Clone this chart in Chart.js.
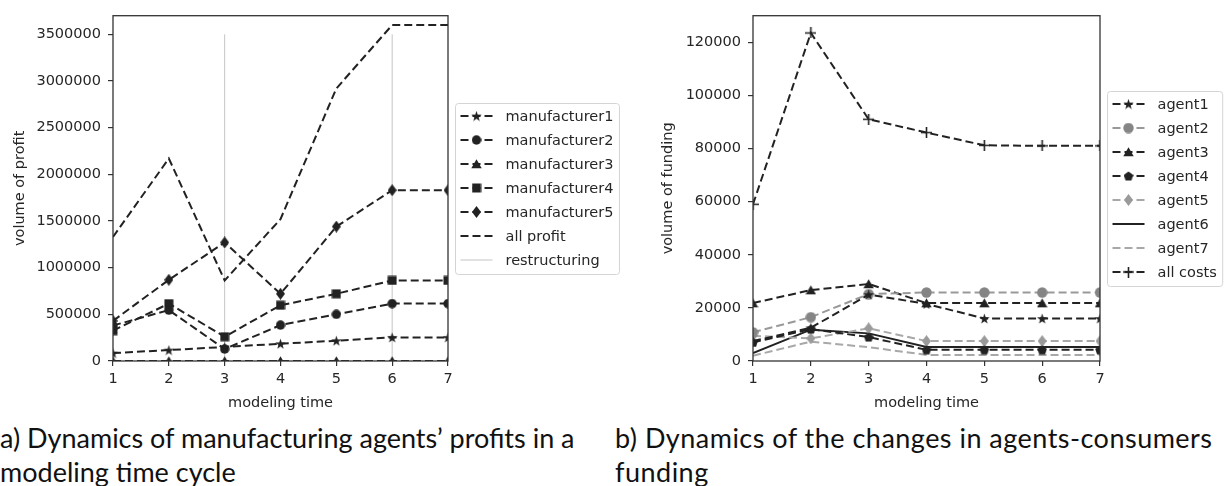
<!DOCTYPE html>
<html>
<head>
<meta charset="utf-8">
<script src="https://cdn.jsdelivr.net/npm/chart.js@4/dist/chart.umd.min.js"></script>
<style>
  html, body { margin: 0; padding: 0; background: #fff; }
  body { width: 1226px; height: 486px; position: relative; overflow: hidden; }
  #c1 { position: absolute; left: 0; top: 0; }
  #c2 { position: absolute; left: 625px; top: 0; }
  .cap { position: absolute; font-family: Lato, "Open Sans", sans-serif;
         font-size: 26px; line-height: 34px; color: #111; white-space: nowrap; }
</style>
</head>
<body>
<canvas id="c1" width="625" height="420"></canvas>
<canvas id="c2" width="601" height="420"></canvas>
<div class="cap" id="capA" style="left:0px; top:421px;">a) Dynamics of manufacturing agents’ profits in a<br>modeling time cycle</div>
<div class="cap" id="capB" style="left:615px; top:421px;">b) Dynamics of the changes in agents-consumers<br>funding</div>
<script>
// ---------- data ----------
const timeSteps = [1, 2, 3, 4, 5, 6, 7];

const manufacturer1 = [85000, 117000, 150000, 185000, 217000, 253000, 253000];
const manufacturer2 = [380000, 545000, 128000, 385000, 500000, 615000, 615000];
const manufacturer3 = [0, 0, 0, 0, 0, 0, 0];
const manufacturer4 = [325000, 615000, 260000, 597000, 720000, 863000, 863000];
const manufacturer5 = [430000, 870000, 1270000, 720000, 1440000, 1830000, 1830000];
const allProfit = [1330000, 2170000, 863000, 1520000, 2920000, 3600000, 3600000];
const restructuringTimes = [3, 6];
const restructuringTop = 3500000;
const profitTicks = [0, 500000, 1000000, 1500000, 2000000, 2500000, 3000000, 3500000];

const agent1 = [7500, 12500, 25000, 21500, 16000, 16000, 16000];
const agent2 = [10800, 16500, 25200, 25800, 25800, 25800, 25800];
const agent3 = [21800, 26700, 29000, 21800, 21800, 21800, 21800];
const agent4 = [7000, 12000, 9000, 4200, 4200, 4200, 4200];
const agent5 = [9500, 8500, 12300, 7500, 7500, 7500, 7500];
const agent6 = [3000, 11800, 10400, 5300, 5300, 5300, 5300];
const agent7 = [2000, 7300, 5200, 2300, 2300, 2300, 2300];
const allCosts = [59000, 123500, 91000, 86000, 81200, 81000, 81000];
const fundingTicks = [0, 20000, 40000, 60000, 80000, 100000, 120000];

// ---------- caption sizing (fit first line widths) ----------
(function fitCaptions() {
  const m = document.createElement('canvas').getContext('2d');
  m.font = '100px Lato';
  const lineA = 'a) Dynamics of manufacturing agents’ profits in a';
  const lineB = 'b) Dynamics of the changes in agents-consumers';
  const size = Math.min(27, 100 * 578 / m.measureText(lineA).width);
  m.font = size + 'px Lato';
  const wb = m.measureText(lineB).width;
  const ls = Math.max(0, (598 - wb) / lineB.length);
  const a = document.getElementById('capA'), b = document.getElementById('capB');
  a.style.fontSize = size + 'px';
  b.style.fontSize = size + 'px';
  b.style.letterSpacing = ls + 'px';
})();

// ---------- styling ----------
const DARK = '#222222';
const GRAY = '#858585';
const GRAYLINE = '#999999';
const DASH = [8, 4];
const FONT = 'DejaVu Sans';
const FS = 14.5;

Chart.defaults.font.family = FONT;
Chart.defaults.font.size = FS;
Chart.defaults.color = '#262626';

function marker(shape, color, w, h) {
  const c = document.createElement('canvas');
  c.width = w; c.height = h;
  const x = c.getContext('2d');
  x.fillStyle = color; x.strokeStyle = color;
  const cx = w / 2, cy = h / 2;
  x.beginPath();
  if (shape === 'circle') {
    x.arc(cx, cy, w / 2 - 0.3, 0, Math.PI * 2); x.fill();
  } else if (shape === 'square') {
    x.fillRect(0.5, 0.5, w - 1, h - 1);
  } else if (shape === 'triangle') {
    x.moveTo(cx, 0.3); x.lineTo(w - 0.3, h - 0.8); x.lineTo(0.3, h - 0.8); x.closePath(); x.fill();
  } else if (shape === 'star' || shape === 'pentagon') {
    const R = w / 2, r = shape === 'star' ? R * 0.4 : R;
    const n = shape === 'star' ? 10 : 5;
    for (let i = 0; i < n; i++) {
      const rad = (shape === 'star' && i % 2 === 1) ? r : R;
      const a = -Math.PI / 2 + i * 2 * Math.PI / n;
      const px = cx + rad * Math.cos(a), py = cy + 0.5 + rad * Math.sin(a);
      if (i === 0) x.moveTo(px, py); else x.lineTo(px, py);
    }
    x.closePath(); x.fill();
  } else if (shape === 'thinDiamond') {
    x.moveTo(cx, 0); x.lineTo(w, cy); x.lineTo(cx, h); x.lineTo(0, cy); x.closePath(); x.fill();
  } else if (shape === 'plus') {
    x.lineWidth = 1.6;
    x.moveTo(cx, 0); x.lineTo(cx, h); x.moveTo(0, cy); x.lineTo(w, cy); x.stroke();
  }
  return c;
}

function pts(values) { return values.map((v, i) => ({ x: timeSteps[i], y: v })); }

function series(label, values, color, dash, style, width) {
  return {
    label: label,
    data: pts(values),
    borderColor: color,
    backgroundColor: color,
    borderWidth: width || 2,
    borderDash: dash,
    pointStyle: style || false,
    pointRadius: style ? 6 : 0,
    tension: 0,
    clip: 0,
  };
}

const legendPlugin = {
  id: 'mplLegend',
  afterDraw(chart) {
    const { ctx, chartArea } = chart;
    const ds = chart.data.datasets;
    const sp = 24;
    const h = (ds.length - 1) * sp + 27;
    const x0 = chartArea.right + 7.5;
    const cy = (chartArea.top + chartArea.bottom) / 2;
    const y0 = Math.round(cy - h / 2) + 0.5;
    ctx.save();
    ctx.font = FS + 'px "' + FONT + '"';
    let tw = 0;
    ds.forEach(d => { tw = Math.max(tw, ctx.measureText(d.label).width); });
    const w = 50 + tw + 6;
    ctx.beginPath();
    ctx.roundRect(x0, y0, w, h, 3);
    ctx.fillStyle = 'rgba(255,255,255,0.85)';
    ctx.fill();
    ctx.strokeStyle = '#d4d4d4';
    ctx.lineWidth = 1;
    ctx.stroke();
    ds.forEach((d, i) => {
      const y = y0 + 12.5 + i * sp;
      ctx.beginPath();
      ctx.setLineDash(d.borderDash || []);
      ctx.strokeStyle = d.borderColor;
      ctx.lineWidth = d.borderWidth;
      ctx.moveTo(x0 + 5, y); ctx.lineTo(x0 + 37, y);
      ctx.stroke();
      ctx.setLineDash([]);
      if (d.pointStyle && typeof d.pointStyle === 'object') {
        const im = d.pointStyle;
        ctx.drawImage(im, x0 + 21 - im.width / 2, y - im.height / 2);
      }
      ctx.fillStyle = '#262626';
      ctx.textBaseline = 'middle';
      ctx.textAlign = 'left';
      ctx.fillText(d.label, x0 + 50, y + 1);
    });
    ctx.restore();
  }
};

const framePlugin = {
  id: 'frame',
  afterDatasetsDraw(chart) {
    const { ctx, chartArea: a } = chart;
    ctx.save();
    ctx.strokeStyle = '#333';
    ctx.lineWidth = 1.3;
    ctx.strokeRect(a.left, a.top, a.right - a.left, a.bottom - a.top);
    ctx.restore();
  }
};

function makeOptions(cfg) {
  return {
    responsive: false,
    animation: false,
    events: [],
    layout: { padding: { top: 14, left: 0, right: cfg.padRight, bottom: 0 } },
    plugins: { legend: { display: false }, tooltip: { enabled: false } },
    scales: {
      x: {
        type: 'linear', min: 1, max: 7,
        afterBuildTicks: s => { s.ticks = timeSteps.map(v => ({ value: v })); },
        afterFit: s => { s.height = 59; },
        grid: { drawOnChartArea: false, drawTicks: true, tickLength: 5, color: '#333', lineWidth: 1.2 },
        border: { display: false },
        ticks: { padding: 5, color: '#262626', callback: v => String(v) },
        title: { display: true, text: 'modeling time', color: '#262626', padding: { top: 0, bottom: 8 } }
      },
      y: {
        type: 'linear', min: 0, max: cfg.yMax,
        afterBuildTicks: s => { s.ticks = cfg.yTicks.map(v => ({ value: v })); },
        afterFit: s => { s.width = cfg.yWidth; },
        grid: { drawOnChartArea: false, drawTicks: true, tickLength: 5, color: '#333', lineWidth: 1.2 },
        border: { display: false },
        ticks: { padding: 7, color: '#262626', callback: v => String(v) },
        title: { display: true, text: cfg.yTitle, color: '#262626', padding: { top: cfg.yTitlePad, bottom: 0 } }
      }
    }
  };
}

// ---------- left chart ----------
const mStar = marker('star', DARK, 11, 11);
const mCircle = marker('circle', DARK, 10, 10);
const mTri = marker('triangle', DARK, 11, 10);
const mSquare = marker('square', DARK, 10, 10);
const mDiamond = marker('thinDiamond', DARK, 9, 12);

const restructData = [];
restructuringTimes.forEach((t, i) => {
  if (i > 0) restructData.push({ x: t, y: null });
  restructData.push({ x: t, y: 0 }, { x: t, y: restructuringTop });
});

new Chart(document.getElementById('c1'), {
  type: 'line',
  data: {
    datasets: [
      series('manufacturer1', manufacturer1, DARK, DASH, mStar),
      series('manufacturer2', manufacturer2, DARK, DASH, mCircle),
      series('manufacturer3', manufacturer3, DARK, DASH, mTri),
      series('manufacturer4', manufacturer4, DARK, DASH, mSquare),
      series('manufacturer5', manufacturer5, DARK, DASH, mDiamond),
      series('all profit', allProfit, DARK, DASH, null),
      { label: 'restructuring', data: restructData, borderColor: '#c4c4c4', borderWidth: 1,
        borderDash: [], pointRadius: 0, pointStyle: false, spanGaps: false, clip: 0 }
    ]
  },
  options: makeOptions({ padRight: 177, yMax: 3700000, yTicks: profitTicks, yWidth: 113,
                         yTitle: 'volume of profit', yTitlePad: 12 }),
  plugins: [framePlugin, legendPlugin]
});

// ---------- right chart ----------
const aStar = marker('star', DARK, 11, 11);
const aCircle = marker('circle', GRAY, 11, 11);
const aTri = marker('triangle', DARK, 11, 10);
const aPent = marker('pentagon', DARK, 10, 10);
const aDiamond = marker('thinDiamond', '#9a9a9a', 9, 12);
const aPlus = marker('plus', DARK, 11, 11);

new Chart(document.getElementById('c2'), {
  type: 'line',
  data: {
    datasets: [
      series('agent1', agent1, DARK, DASH, aStar),
      series('agent2', agent2, GRAYLINE, DASH, aCircle),
      series('agent3', agent3, DARK, DASH, aTri),
      series('agent4', agent4, DARK, DASH, aPent),
      series('agent5', agent5, '#a8a8a8', DASH, aDiamond),
      series('agent6', agent6, DARK, [], null),
      series('agent7', agent7, '#a8a8a8', DASH, null),
      series('all costs', allCosts, DARK, DASH, aPlus)
    ]
  },
  options: makeOptions({ padRight: 126, yMax: 130000, yTicks: fundingTicks, yWidth: 128,
                         yTitle: 'volume of funding', yTitlePad: 35 }),
  plugins: [framePlugin, legendPlugin]
});
</script>
</body>
</html>
